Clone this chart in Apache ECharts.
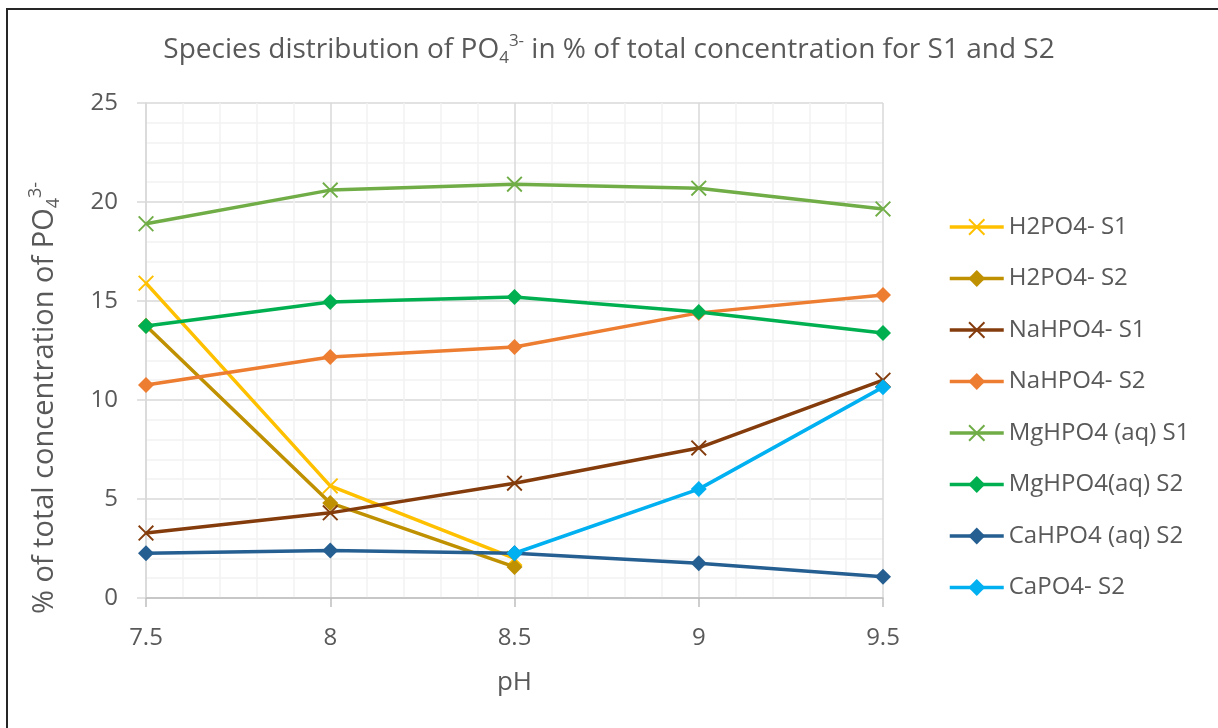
<!DOCTYPE html>
<html>
<head>
<meta charset="utf-8">
<script src="https://cdn.jsdelivr.net/npm/echarts@6/dist/echarts.min.js"></script>
<style>
html,body{margin:0;padding:0;background:#fff;}
#chart{width:1218px;height:728px;}
</style>
</head>
<body>
<div id="chart"></div>
<script>
// ---- data ----
const phValues = [7.5, 8, 8.5, 9, 9.5];
const seriesNames = ['H2PO4- S1', 'H2PO4- S2', 'NaHPO4- S1', 'NaHPO4- S2', 'MgHPO4 (aq) S1', 'MgHPO4(aq) S2', 'CaHPO4 (aq) S2', 'CaPO4- S2'];
const h2po4S1 = [15.9, 5.66, 2.0, null, null];
const h2po4S2 = [13.75, 4.8, 1.57, null, null];
const nahpo4S1 = [3.28, 4.3, 5.8, 7.58, 11.0];
const nahpo4S2 = [10.76, 12.17, 12.68, 14.4, 15.3];
const mghpo4S1 = [18.9, 20.6, 20.9, 20.7, 19.65];
const mghpo4S2 = [13.74, 14.95, 15.2, 14.44, 13.38];
const cahpo4S2 = [2.26, 2.4, 2.26, 1.76, 1.07];
const capo4S2 = [null, null, 2.26, 5.5, 10.65];
const yTicks = [0, 5, 10, 15, 20, 25];
const xTicks = [7.5, 8, 8.5, 9, 9.5];

const seriesValues = [h2po4S1, h2po4S2, nahpo4S1, nahpo4S2, mghpo4S1, mghpo4S2, cahpo4S2, capo4S2];
const colors = ['#FFC000', '#BF9000', '#843C0C', '#ED7D31', '#70AD47', '#00B050', '#255E91', '#00B0F0'];
const crossSym = 'path://M0,1L1,0L6,5L11,0L12,1L7,6L12,11L11,12L6,7L1,12L0,11L5,6Z';
const symbols = [crossSym, 'diamond', crossSym, 'diamond', crossSym, 'diamond', 'diamond', 'diamond'];

const FONT = 'Open Sans';
const TXT = '#595959';

const series = seriesNames.map((name, i) => ({
  name: name,
  type: 'line',
  data: phValues.map((x, j) => seriesValues[i][j] == null ? null : [x, seriesValues[i][j]]).filter(d => d !== null),
  symbol: symbols[i],
  symbolSize: 16,
  showAllSymbol: true,
  lineStyle: { color: colors[i], width: 3.5 },
  itemStyle: { color: colors[i] },
  emphasis: { disabled: true },
  z: 2 + i
}));

const chart = echarts.init(document.getElementById('chart'), null, { renderer: 'canvas' });
chart.setOption({
  animation: false,
  backgroundColor: '#fff',
  title: {
    text: '{m|Species distribution of PO}{sub|4}{sup|3-}{m| in % of total concentration for S1 and S2}',
    left: 'center',
    top: 33,
    padding: [0, 0, 0, 12],
    textStyle: {
      fontWeight: 'normal',
      rich: {
        m: { fontFamily: FONT, fontSize: 28, fontWeight: 'normal', color: TXT, lineHeight: 34 },
        sub: { fontFamily: FONT, fontSize: 17, fontWeight: 'normal', color: TXT, lineHeight: 16, verticalAlign: 'bottom' },
        sup: { fontFamily: FONT, fontSize: 17, fontWeight: 'normal', color: TXT, lineHeight: 16, verticalAlign: 'top' }
      }
    }
  },
  graphic: [
    {
      type: 'rect',
      shape: { x: 7, y: 9, width: 1220, height: 730 },
      style: { fill: 'none', stroke: '#262626', lineWidth: 2 },
      silent: true
    },
    {
      type: 'text',
      x: 45,
      y: 398,
      rotation: Math.PI / 2,
      style: {
        text: '{m|% of total concentration of PO}{sub|4}{sup|3-}',
        align: 'center',
        verticalAlign: 'middle',
        rich: {
          m: { fontFamily: FONT, fontSize: 29, fill: TXT, lineHeight: 36 },
          sub: { fontFamily: FONT, fontSize: 18, fill: TXT, lineHeight: 17, verticalAlign: 'bottom' },
          sup: { fontFamily: FONT, fontSize: 18, fill: TXT, lineHeight: 17, verticalAlign: 'top' }
        }
      },
      silent: true
    }
  ],
  legend: {
    orient: 'vertical',
    left: 943,
    top: 207,
    itemWidth: 54,
    itemHeight: 21,
    itemGap: 21.5,
    lineStyle: { width: 3.5 },
    textStyle: { fontFamily: FONT, fontSize: 24, color: TXT, lineHeight: 30 },
    data: seriesNames
  },
  grid: { left: 146, right: 335, top: 103, bottom: 130, containLabel: false },
  xAxis: {
    type: 'value',
    min: xTicks[0],
    max: xTicks[xTicks.length - 1],
    interval: 0.5,
    name: 'pH',
    nameLocation: 'middle',
    nameGap: 72,
    nameTextStyle: { fontFamily: FONT, fontSize: 26, color: TXT },
    axisLine: { show: true, lineStyle: { color: '#BFBFBF', width: 1.5 } },
    axisTick: { show: true, inside: false, length: 9, lineStyle: { color: '#BFBFBF', width: 1.5 } },
    axisLabel: { fontFamily: FONT, fontSize: 24, color: TXT, margin: 28, formatter: v => String(v) },
    splitLine: { show: true, lineStyle: { color: '#D9D9D9', width: 1.5 } },
    minorTick: { show: false, splitNumber: 5 },
    minorSplitLine: { show: true, lineStyle: { color: '#F2F2F2', width: 1.5 } }
  },
  yAxis: {
    type: 'value',
    min: yTicks[0],
    max: yTicks[yTicks.length - 1],
    interval: 5,
    axisLine: { show: true, lineStyle: { color: '#D9D9D9', width: 1.5 } },
    axisTick: { show: true, inside: false, length: 9, lineStyle: { color: '#D9D9D9', width: 1.5 } },
    axisLabel: { fontFamily: FONT, fontSize: 24, color: TXT, margin: 28 },
    splitLine: { show: true, lineStyle: { color: '#D9D9D9', width: 1.5 } },
    minorTick: { show: false, splitNumber: 5 },
    minorSplitLine: { show: true, lineStyle: { color: '#F2F2F2', width: 1.5 } }
  },
  series: series
});
</script>
</body>
</html>
